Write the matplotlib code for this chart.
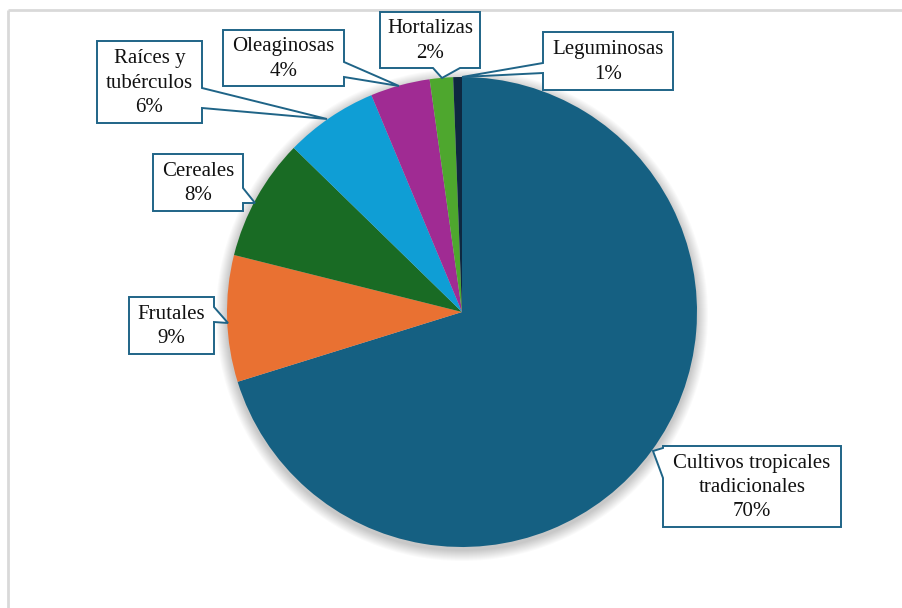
import matplotlib
matplotlib.use("Agg")
import matplotlib.pyplot as plt
from matplotlib.patches import Polygon, Circle

# data
categorias = ["Cultivos tropicales\ntradicionales", "Frutales", "Cereales",
              "Raíces y\ntubérculos", "Oleaginosas", "Hortalizas", "Leguminosas"]
valores = [70.2, 8.7, 8.4, 6.4, 4.1, 1.6, 0.6]
colores = ["#156082", "#e97132", "#196b24", "#0f9ed5", "#a02b93", "#4ea72e", "#0e2841"]

W, H = 902, 608
fig = plt.figure(figsize=(W / 100, H / 100), dpi=100)
ax = fig.add_axes([0, 0, 1, 1])

def Y(y):
    # pixel row (top down) -> data y
    return H - y

cx, cy, r = 462, 312, 235

# soft shadow
for i in range(1, 12):
    ax.add_patch(Circle((cx, Y(cy + 3)), r + i, color="#000000", alpha=0.02, lw=0, zorder=1))

ax.pie(valores, colors=colores, startangle=90, counterclock=False,
       center=(cx, Y(cy)), radius=r, frame=True,
       wedgeprops=dict(linewidth=0, zorder=2))
ax.set_xlim(0, W)
ax.set_ylim(0, H)
ax.set_aspect("equal")
ax.axis("off")

# chart frame (only top and left edges are inside the picture)
ax.plot([8, W], [Y(10), Y(10)], color="#d9d9d9", lw=2, solid_capstyle="butt")
ax.plot([8, 8], [Y(10), 0], color="#d9d9d9", lw=2, solid_capstyle="butt")

# callout boxes: (x0, y0, x1, y1, side, a, b, tip)
cajas = [
    (663, 446, 841, 527, "left", 448, 478, (653, 451)),
    (129, 297, 214, 354, "right", 307, 322, (228, 323)),
    (153, 154, 243, 211, "right", 188, 203, (255, 203)),
    (97, 41, 202, 123, "right", 88, 108, (327, 119)),
    (223, 30, 344, 86, "right", 62, 77, (399, 86)),
    (380, 12, 480, 68, "bottom", 433, 460, (442, 78)),
    (543, 32, 673, 90, "left", 63, 73, (462, 77)),
]

def etiqueta(nombre, v):
    return "%s\n%d%%" % (nombre, int(v + 0.5))

for nombre, v, caja in zip(categorias, valores, cajas):
    x0, y0, x1, y1, lado, a, b, tip = caja
    if lado == "right":
        pts = [(x0, y0), (x1, y0), (x1, a), tip, (x1, b), (x1, y1), (x0, y1)]
    elif lado == "left":
        pts = [(x0, y0), (x1, y0), (x1, y1), (x0, y1), (x0, b), tip, (x0, a)]
    else:  # bottom
        pts = [(x0, y0), (x1, y0), (x1, y1), (b, y1), tip, (a, y1), (x0, y1)]
    pts = [(px, Y(py)) for px, py in pts]
    ax.add_patch(Polygon(pts, closed=True, facecolor="white", edgecolor="#1f6487",
                         lw=1.4, zorder=5, joinstyle="miter"))
    ax.text((x0 + x1) / 2, Y((y0 + y1) / 2 + 1), etiqueta(nombre, v), ha="center", va="center",
            fontsize=15, family="Liberation Serif", color="#111111",
            linespacing=1.38, zorder=6)

fig.savefig("out.png", dpi=100)
